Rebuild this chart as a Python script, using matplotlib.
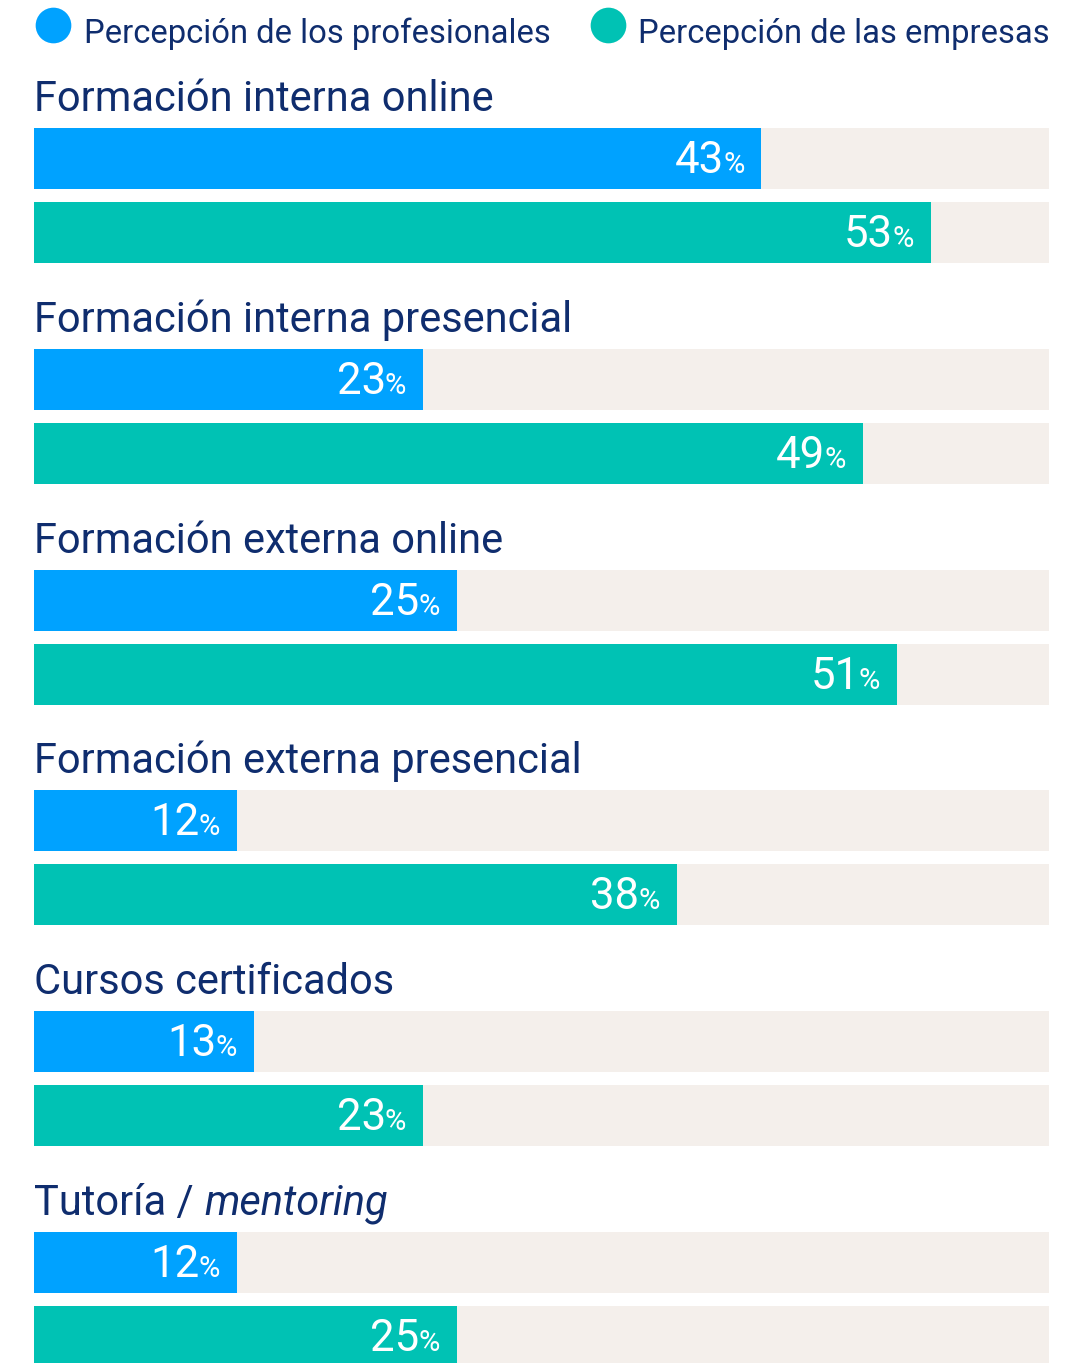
import matplotlib
matplotlib.use('Agg')
import matplotlib.pyplot as plt
from matplotlib.transforms import offset_copy

plt.rcParams['font.family'] = ['Roboto', 'DejaVu Sans']

# datos
categorias = ['Formación interna online', 'Formación interna presencial',
              'Formación externa online', 'Formación externa presencial',
              'Cursos certificados', 'Tutoría / ']
profesionales = [43, 23, 25, 12, 13, 12]
empresas = [53, 49, 51, 38, 23, 25]
series = ['Percepción de los profesionales', 'Percepción de las empresas']

AZUL = '#00a2ff'
VERDE = '#00c2b4'
FONDO = '#f4efeb'
NAVY = '#0f2d6e'
XMAX = 60

W, H = 1090, 1363
fig = plt.figure(figsize=(W / 100, H / 100), dpi=100)
ax = fig.add_axes([34 / W, 0, 1015 / W, 1])
ax.set_xlim(0, XMAX)
ax.set_ylim(H, 0)
ax.axis('off')

paso = 220.8
alto = 61
renderer = fig.canvas.get_renderer()


def etiqueta(x, y_base, valor):
    # número grande + "%" pequeño, alineado a la derecha
    tr = offset_copy(ax.transData, fig=fig, x=-17, y=0, units='dots')
    pct = ax.text(x, y_base, '%', transform=tr, ha='right', va='baseline',
                  fontsize=21, color='white')
    ext = pct.get_window_extent(renderer)
    tr2 = offset_copy(ax.transData, fig=fig, x=-17 - ext.width + 1, y=0, units='dots')
    ax.text(x, y_base, str(valor), transform=tr2, ha='right', va='baseline',
            fontsize=31.5, color='white')


for i, cat in enumerate(categorias):
    top = 128 + paso * i
    for j, (vals, col) in enumerate([(profesionales, AZUL), (empresas, VERDE)]):
        y0 = top + 74 * j
        ax.barh(y0, XMAX, height=alto, left=0, align='edge', color=FONDO, clip_on=False)
        ax.barh(y0, vals[i], height=alto, left=0, align='edge', color=col, clip_on=False)
        etiqueta(vals[i], y0 + 45, vals[i])
    t = ax.text(0, top - 17, cat, ha='left', va='baseline', fontsize=30, color=NAVY)
    if cat.endswith('/ '):
        ext = t.get_window_extent(renderer)
        tr = offset_copy(ax.transData, fig=fig, x=ext.width, y=0, units='dots')
        ax.text(0, top - 17, 'mentoring', transform=tr, ha='left', va='baseline',
                fontsize=30, color=NAVY, style='italic')

# leyenda
for xc, xt, col, nombre in [(53, 84, AZUL, series[0]), (608, 638, VERDE, series[1])]:
    ax.scatter([(xc - 34) / 1015 * XMAX], [25], s=660, color=col, clip_on=False, lw=0)
    ax.text((xt - 34) / 1015 * XMAX, 43, nombre, ha='left', va='baseline',
            fontsize=23.6, color=NAVY)

fig.savefig('out.png', dpi=100)
